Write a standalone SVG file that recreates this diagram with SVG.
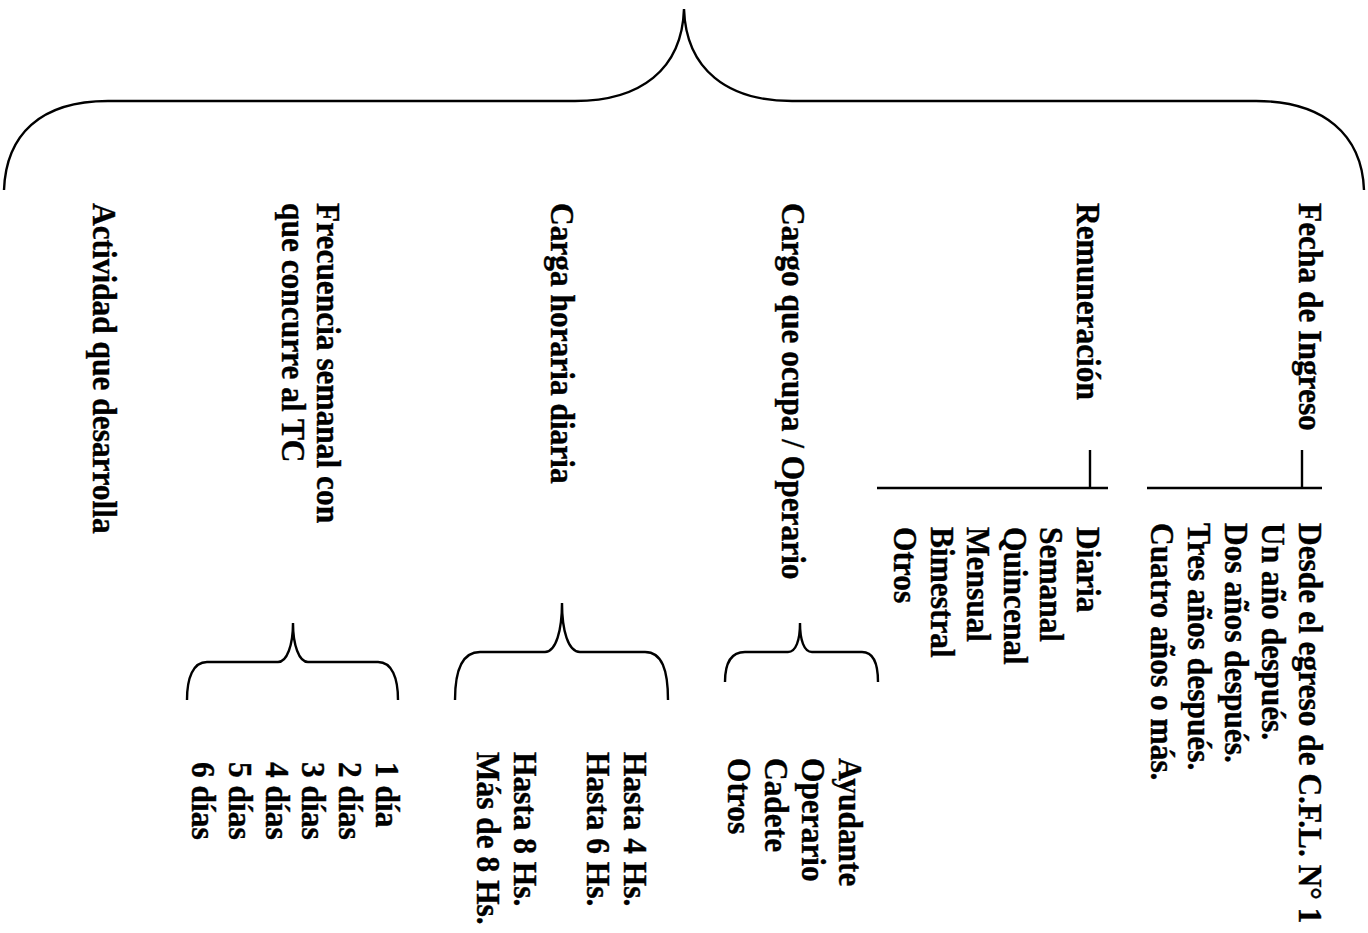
<svg xmlns="http://www.w3.org/2000/svg" width="1368" height="933" viewBox="0 0 1368 933">
<style>
text{font-family:"Liberation Serif","Times New Roman",serif;font-weight:bold;font-size:34.5px;fill:#000;stroke:#000;stroke-width:0.4}
.c{fill:none;stroke:#000;stroke-width:2.4;stroke-linecap:butt}
</style>
<rect width="1368" height="933" fill="#fff"/>
<g id="connectors">
<path class="c" d="M4,190 C6,135 40,101 108,101 L575,101 C640,101 682,70 684,9 C686,70 728,101 792,101 L1256,101 C1324,101 1362,135 1364,190"/>
<path class="c" d="M725,682 C725,664 730,652 745,652 L788,652 C796,652 800,640 800,623 C800,640 804,652 812,652 L862,652 C874,652 878,664 878,682"/>
<path class="c" d="M455,700 C455,670 462,652 480,652 L545,652 C556,652 562,630 562,603 C562,630 568,652 580,652 L645,652 C662,652 668,670 668,700"/>
<path class="c" d="M187,700 C187,678 193,662 207,662 L278,662 C287,662 293,645 293,623 C293,645 299,662 308,662 L378,662 C392,662 398,678 398,700"/>
<path class="c" d="M1302,450 L1302,488 M1147,488 L1322,488"/>
<path class="c" d="M1090,450 L1090,488 M877,488 L1108,488"/>
</g>
<g id="fecha">
<text transform="translate(1299,203) rotate(90) scale(0.91,1)">Fecha de Ingreso</text>
</g>
<g id="fecha-opciones">
<text transform="translate(1299,523) rotate(90) scale(0.91,1)"><tspan x="0" y="0">Desde el egreso de C.F.L. N° 1</tspan><tspan x="0" dy="37">Un año después.</tspan><tspan x="0" dy="37">Dos años después.</tspan><tspan x="0" dy="37">Tres años después.</tspan><tspan x="0" dy="37">Cuatro años o más.</tspan></text>
</g>
<g id="remuneracion">
<text transform="translate(1077,203) rotate(90) scale(0.91,1)">Remuneración</text>
</g>
<g id="remuneracion-opciones">
<text transform="translate(1077,527) rotate(90) scale(0.91,1)"><tspan x="0" y="0">Diaria</tspan><tspan x="0" dy="36.6">Semanal</tspan><tspan x="0" dy="36.6">Quincenal</tspan><tspan x="0" dy="36.6">Mensual</tspan><tspan x="0" dy="36.6">Bimestral</tspan><tspan x="0" dy="36.6">Otros</tspan></text>
</g>
<g id="cargo">
<text transform="translate(782,203) rotate(90) scale(0.91,1)">Cargo que ocupa / Operario</text>
</g>
<g id="cargo-opciones">
<text transform="translate(839,758) rotate(90) scale(0.91,1)"><tspan x="0" y="0">Ayudante</tspan><tspan x="0" dy="37">Operario</tspan><tspan x="0" dy="37">Cadete</tspan><tspan x="0" dy="37">Otros</tspan></text>
</g>
<g id="carga">
<text transform="translate(551,203) rotate(90) scale(0.91,1)">Carga horaria diaria</text>
</g>
<g id="carga-opciones">
<text transform="translate(624,752) rotate(90) scale(0.91,1)"><tspan x="0" y="0">Hasta 4 Hs.</tspan><tspan x="0" dy="36.75">Hasta 6 Hs.</tspan><tspan x="0" dy="73.5">Hasta 8 Hs.</tspan><tspan x="0" dy="36.75">Más de 8 Hs.</tspan></text>
</g>
<g id="frecuencia">
<text transform="translate(317,203) rotate(90) scale(0.91,1)"><tspan x="0" y="0">Frecuencia semanal con</tspan><tspan x="0" dy="35">que concurre al TC</tspan></text>
</g>
<g id="frecuencia-opciones">
<text transform="translate(376,762) rotate(90) scale(0.91,1)"><tspan x="0" y="0">1 día</tspan><tspan x="0" dy="36.8">2 días</tspan><tspan x="0" dy="36.8">3 días</tspan><tspan x="0" dy="36.8">4 días</tspan><tspan x="0" dy="36.8">5 días</tspan><tspan x="0" dy="36.8">6 días</tspan></text>
</g>
<g id="actividad">
<text transform="translate(93,203) rotate(90) scale(0.91,1)">Actividad que desarrolla</text>
</g>
</svg>
